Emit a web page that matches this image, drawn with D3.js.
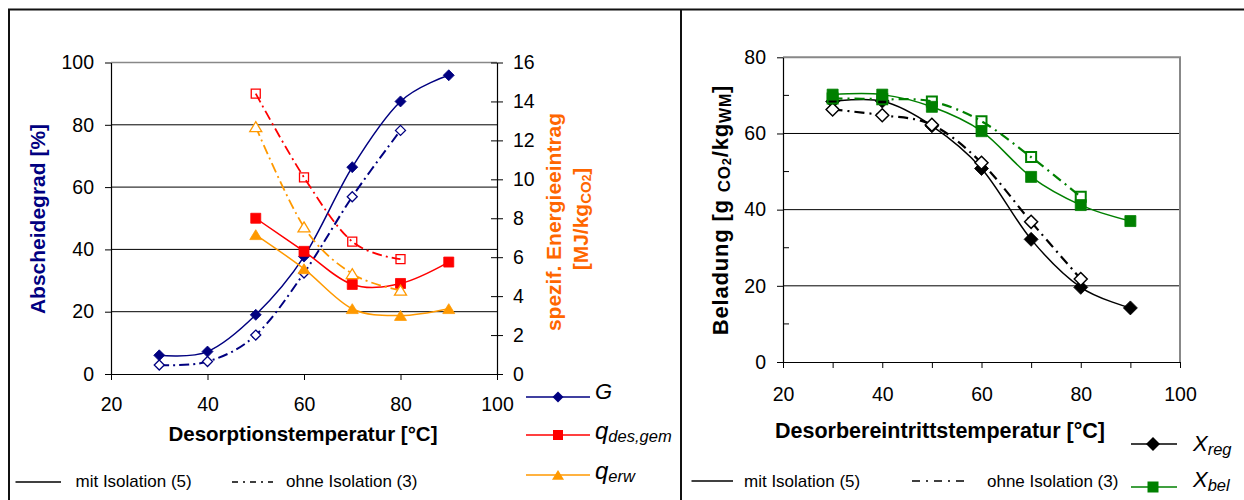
<!DOCTYPE html>
<html>
<head>
<meta charset="utf-8">
<script src="https://cdn.jsdelivr.net/npm/d3@7"></script>
<style>
  html, body { margin: 0; padding: 0; background: #fff; }
  svg { display: block; font-family: "Liberation Sans", Arial, sans-serif; }
</style>
</head>
<body>
<svg id="chart" width="1244" height="500"></svg>
<script>
// ---------- data ----------
// temperature steps [°C]
const tempsMit = [30, 40, 50, 60, 70, 80, 90];
const tempsOhne = [30, 40, 50, 60, 70, 80];
const tempsQMit = [50, 60, 70, 80, 90];
const tempsQOhne = [50, 60, 70, 80];

// left panel: separation efficiency G [%]
const gMit = [6.0, 7.2, 19.0, 37.7, 66.4, 87.5, 95.9];
const gOhne = [2.9, 4.0, 12.5, 32.4, 56.9, 78.2];
// left panel: specific energy input [MJ/kg CO2]
const qDesMit = [8.0, 6.3, 4.6, 4.65, 5.75];
const qDesOhne = [14.4, 10.1, 6.8, 5.9];
const qErwMit = [7.15, 5.4, 3.35, 3.0, 3.35];
const qErwOhne = [12.7, 7.55, 5.15, 4.3];

// right panel: loading [g CO2 / kg WM]
const xRegMit = [68.4, 68.5, 62.0, 50.8, 32.2, 19.6, 14.2];
const xRegOhne = [66.3, 64.8, 62.3, 52.3, 36.8, 21.8];
const xBelMit = [70.2, 70.2, 67.0, 60.6, 48.6, 41.2, 37.0];
const xBelOhne = [69.2, 69.0, 68.4, 63.2, 53.8, 43.4];

// tick labels
const leftTicksG = [0, 20, 40, 60, 80, 100];
const leftTicksQ = [0, 2, 4, 6, 8, 10, 12, 14, 16];
const tempTicks = [20, 40, 60, 80, 100];
const rightTicksMajor = [0, 20, 40, 60, 80];
const rightTicksMinor = [10, 30, 50, 70];
const rightTempTicks = [20, 30, 40, 50, 60, 70, 80, 90, 100];

// ---------- helpers ----------
const NAVY = "#000080", RED = "#ff0000", ORANGE = "#ff9900", GREEN = "#008000", TITLE_ORANGE = "#ff6600";
const TICK_FONT = 19.5;
const zip = (xs, ys) => xs.map((x, i) => [x, ys[i]]);

const diamond = {
  draw(ctx, size) {
    const r = Math.sqrt(size / 2);
    ctx.moveTo(0, -r); ctx.lineTo(r, 0); ctx.lineTo(0, r); ctx.lineTo(-r, 0); ctx.closePath();
  }
};
const triangle = {
  draw(ctx, size) {
    const h = Math.sqrt(size);
    ctx.moveTo(0, -h * 0.85); ctx.lineTo(h, h * 0.8); ctx.lineTo(-h, h * 0.8); ctx.closePath();
  }
};

const svg = d3.select("#chart");
svg.append("rect").attr("width", 1244).attr("height", 500).attr("fill", "#fff");

// outer frame
const frame = svg.append("g").attr("stroke", "#111").attr("stroke-width", 2);
frame.append("line").attr("x1", 8).attr("x2", 1244).attr("y1", 9.5).attr("y2", 9.5);
frame.append("line").attr("x1", 9).attr("x2", 9).attr("y1", 9).attr("y2", 500);
frame.append("line").attr("x1", 681).attr("x2", 681).attr("y1", 9).attr("y2", 500);

function styleAxis(g, size) {
  g.select(".domain").attr("stroke", "#000").attr("stroke-width", 1.2);
  g.selectAll(".tick line").attr("stroke", "#000").attr("stroke-width", 1);
  g.selectAll(".tick text").attr("fill", "#000").style("font-size", size + "px")
    .style("font-family", '"Liberation Sans", Arial, sans-serif');
}

function drawSeries(g, x, y, s) {
  const pts = zip(s.xs, s.ys);
  const line = d3.line().x(d => x(d[0])).y(d => y(d[1])).curve(d3.curveCatmullRom.alpha(0));
  g.append("path").attr("d", line(pts)).attr("fill", "none")
    .attr("stroke", s.color).attr("stroke-width", s.width)
    .attr("stroke-dasharray", s.dash || null);
  const sym = d3.symbol().type(s.symbol).size(s.size);
  g.selectAll(null).data(pts).enter().append("path")
    .attr("transform", d => `translate(${x(d[0])},${y(d[1])})`)
    .attr("d", sym)
    .attr("fill", s.filled ? s.color : s.openFill)
    .attr("stroke", s.color)
    .attr("stroke-width", s.filled ? 0.8 : s.markerStroke);
}

// ---------- left panel ----------
const L = svg.append("g");
const xL = d3.scaleLinear().domain([20, 100]).range([111, 497]);
const yL = d3.scaleLinear().domain([0, 100]).range([374, 62.5]);
const yQ = d3.scaleLinear().domain([0, 16]).range([374, 62.5]);

L.selectAll(null).data([20, 40, 60, 80]).enter().append("line")
  .attr("x1", xL(20)).attr("x2", xL(100))
  .attr("y1", d => yL(d)).attr("y2", d => yL(d))
  .attr("stroke", "#000").attr("stroke-width", 1);
L.append("line").attr("x1", xL(20)).attr("x2", xL(100))
  .attr("y1", yL(100)).attr("y2", yL(100)).attr("stroke", "#888").attr("stroke-width", 1.5);

const axL = L.append("g").attr("transform", `translate(${xL(20)},0)`)
  .call(d3.axisLeft(yL).tickValues(leftTicksG).tickSize(6).tickPadding(11).tickSizeOuter(0).tickFormat(d3.format("d")));
styleAxis(axL, TICK_FONT);
const axQ = L.append("g").attr("transform", `translate(${xL(100)},0)`)
  .call(d3.axisRight(yQ).tickValues(leftTicksQ).tickSize(6).tickPadding(10).tickSizeOuter(0).tickFormat(d3.format("d")));
axQ.selectAll(".tick line").attr("x1", -6);
styleAxis(axQ, TICK_FONT);
const axTL = L.append("g").attr("transform", `translate(0,${yL(0)})`)
  .call(d3.axisBottom(xL).tickValues(tempTicks).tickSize(6).tickPadding(17).tickSizeOuter(0).tickFormat(d3.format("d")));
styleAxis(axTL, TICK_FONT);

const leftSeries = [
  { xs: tempsMit, ys: gMit, y: yL, color: NAVY, width: 1.5, symbol: diamond, size: 2 * 5.5 * 5.5, filled: true },
  { xs: tempsOhne, ys: gOhne, y: yL, color: NAVY, width: 2, dash: "10,4,2,4", symbol: diamond, size: 2 * 5 * 5, filled: false, openFill: "#fff", markerStroke: 1.3 },
  { xs: tempsQMit, ys: qDesMit, y: yQ, color: RED, width: 1.5, symbol: d3.symbolSquare, size: 100, filled: true },
  { xs: tempsQOhne, ys: qDesOhne, y: yQ, color: RED, width: 1.8, dash: "10,4,2,4", symbol: d3.symbolSquare, size: 81, filled: false, openFill: "none", markerStroke: 1.3 },
  { xs: tempsQMit, ys: qErwMit, y: yQ, color: ORANGE, width: 1.5, symbol: triangle, size: 36, filled: true },
  { xs: tempsQOhne, ys: qErwOhne, y: yQ, color: ORANGE, width: 1.8, dash: "10,4,2,4", symbol: triangle, size: 36, filled: false, openFill: "#fff", markerStroke: 1.3 }
];
leftSeries.forEach(s => drawSeries(L, xL, s.y, s));

// axis titles
L.append("text").attr("transform", "translate(45,219) rotate(-90)")
  .attr("text-anchor", "middle").attr("fill", NAVY).style("font-weight", "bold").style("font-size", "21px")
  .text("Abscheidegrad [%]");
L.append("text").attr("transform", "translate(561,222) rotate(-90)")
  .attr("text-anchor", "middle").attr("fill", TITLE_ORANGE).style("font-weight", "bold").style("font-size", "21px")
  .text("spezif. Energieeintrag");
const unitQ = L.append("text").attr("transform", "translate(588,219) rotate(-90)")
  .attr("text-anchor", "middle").attr("fill", TITLE_ORANGE).style("font-weight", "bold").style("font-size", "21px");
unitQ.append("tspan").text("[MJ/kg");
unitQ.append("tspan").attr("dy", 3).style("font-size", "15px").text("CO");
unitQ.append("tspan").style("font-size", "12px").text("2");
unitQ.append("tspan").attr("dy", -3).text("]");
L.append("text").attr("x", 303).attr("y", 441).attr("text-anchor", "middle")
  .style("font-weight", "bold").style("font-size", "20.5px").text("Desorptionstemperatur [°C]");

// series legend (left)
const legL = [
  { y: 397, color: NAVY, symbol: diamond, size: 2 * 5.5 * 5.5, main: "G", sub: "", base: 399 },
  { y: 435, color: RED, symbol: d3.symbolSquare, size: 100, main: "q", sub: "des,gem", base: 439 },
  { y: 475, color: ORANGE, symbol: triangle, size: 36, main: "q", sub: "erw", base: 479 }
];
legL.forEach(e => {
  L.append("line").attr("x1", 526).attr("x2", 590).attr("y1", e.y).attr("y2", e.y)
    .attr("stroke", e.color).attr("stroke-width", 1.5);
  L.append("path").attr("transform", `translate(558,${e.y})`)
    .attr("d", d3.symbol().type(e.symbol).size(e.size)).attr("fill", e.color);
  const t = L.append("text").attr("x", 595).attr("y", e.base).style("font-style", "italic");
  t.append("tspan").style("font-size", e.main === "G" ? "22px" : "24px").text(e.main);
  if (e.sub) t.append("tspan").attr("dy", 3).style("font-size", "16.5px").text(e.sub);
});

// line-style legend (left)
L.append("line").attr("x1", 15.5).attr("x2", 61).attr("y1", 482).attr("y2", 482).attr("stroke", "#000").attr("stroke-width", 1.5);
L.append("text").attr("x", 75.5).attr("y", 487).style("font-size", "17px").text("mit Isolation (5)");
L.append("line").attr("x1", 232).attr("x2", 273).attr("y1", 482).attr("y2", 482).attr("stroke", "#000").attr("stroke-width", 1.5).attr("stroke-dasharray", "6,5,2,5");
L.append("text").attr("x", 286).attr("y", 487).style("font-size", "17px").text("ohne Isolation (3)");

// ---------- right panel ----------
const R = svg.append("g");
const xR = d3.scaleLinear().domain([20, 100]).range([783, 1180]);
const yB = d3.scaleLinear().domain([0, 80]).range([362, 57.3]);

R.selectAll(null).data([20, 40, 60]).enter().append("line")
  .attr("x1", xR(20)).attr("x2", xR(100))
  .attr("y1", d => yB(d)).attr("y2", d => yB(d))
  .attr("stroke", "#000").attr("stroke-width", 1);
R.append("path")
  .attr("d", `M${xR(20)},${yB(80)}H${xR(100)}V${yB(0)}`)
  .attr("fill", "none").attr("stroke", "#888").attr("stroke-width", 2);

const axB = R.append("g").attr("transform", `translate(${xR(20)},0)`)
  .call(d3.axisLeft(yB).tickValues(rightTicksMajor).tickSize(6).tickPadding(11).tickSizeOuter(0).tickFormat(d3.format("d")));
styleAxis(axB, TICK_FONT);
R.selectAll(null).data(rightTicksMinor).enter().append("line")
  .attr("x1", xR(20)).attr("x2", xR(20) + 6)
  .attr("y1", d => yB(d)).attr("y2", d => yB(d))
  .attr("stroke", "#000").attr("stroke-width", 1);
const axTR = R.append("g").attr("transform", `translate(0,${yB(0)})`)
  .call(d3.axisBottom(xR).tickValues(rightTempTicks).tickSize(6).tickPadding(19).tickSizeOuter(0)
    .tickFormat(d => d % 20 === 0 ? d3.format("d")(d) : ""));
styleAxis(axTR, TICK_FONT);

const rightSeries = [
  { xs: tempsMit, ys: xRegMit, color: "#000", width: 1.5, symbol: diamond, size: 2 * 7 * 7, filled: true },
  { xs: tempsOhne, ys: xRegOhne, color: "#000", width: 2.2, dash: "10,5,2,5", symbol: diamond, size: 2 * 6.5 * 6.5, filled: false, openFill: "#fff", markerStroke: 1.5 },
  { xs: tempsMit, ys: xBelMit, color: GREEN, width: 1.5, symbol: d3.symbolSquare, size: 121, filled: true },
  { xs: tempsOhne, ys: xBelOhne, color: GREEN, width: 2.2, dash: "10,5,2,5", symbol: d3.symbolSquare, size: 100, filled: false, openFill: "none", markerStroke: 2 }
];
rightSeries.forEach(s => drawSeries(R, xR, yB, s));

const titleB = R.append("text").attr("transform", "translate(728,210) rotate(-90)")
  .attr("text-anchor", "middle").style("font-weight", "bold").style("font-size", "22px")
  .style("letter-spacing", "0.8px");
titleB.append("tspan").text("Beladung [g ");
titleB.append("tspan").attr("dy", 2).style("font-size", "17px").text("CO");
titleB.append("tspan").attr("dy", 1).style("font-size", "13px").text("2");
titleB.append("tspan").attr("dy", -3).text("/kg");
titleB.append("tspan").attr("dy", 3).style("font-size", "16px").text("WM");
titleB.append("tspan").attr("dy", -3).text("]");

R.append("text").attr("x", 940).attr("y", 438).attr("text-anchor", "middle")
  .style("font-weight", "bold").style("font-size", "21.5px").text("Desorbereintrittstemperatur [°C]");

// series legend (right)
const legR = [
  { y: 444, color: "#000", symbol: diamond, size: 2 * 7 * 7, sub: "reg", base: 451 },
  { y: 487, color: GREEN, symbol: d3.symbolSquare, size: 121, sub: "bel", base: 487 }
];
legR.forEach(e => {
  R.append("line").attr("x1", 1131).attr("x2", 1177).attr("y1", e.y).attr("y2", e.y)
    .attr("stroke", e.color).attr("stroke-width", 1.5);
  R.append("path").attr("transform", `translate(1153,${e.y})`)
    .attr("d", d3.symbol().type(e.symbol).size(e.size)).attr("fill", e.color);
  const t = R.append("text").attr("x", 1193).attr("y", e.base).style("font-style", "italic");
  t.append("tspan").style("font-size", "22px").text("X");
  t.append("tspan").attr("dy", 4).style("font-size", "16.5px").text(e.sub);
});

// line-style legend (right)
R.append("line").attr("x1", 691.5).attr("x2", 733).attr("y1", 481).attr("y2", 481).attr("stroke", "#000").attr("stroke-width", 1.5);
R.append("text").attr("x", 744).attr("y", 487).style("font-size", "17px").text("mit Isolation (5)");
R.append("line").attr("x1", 912).attr("x2", 970).attr("y1", 481).attr("y2", 481).attr("stroke", "#000").attr("stroke-width", 1.5).attr("stroke-dasharray", "8,6,2,6");
R.append("text").attr("x", 987).attr("y", 487).style("font-size", "17px").text("ohne Isolation (3)");
</script>
</body>
</html>
